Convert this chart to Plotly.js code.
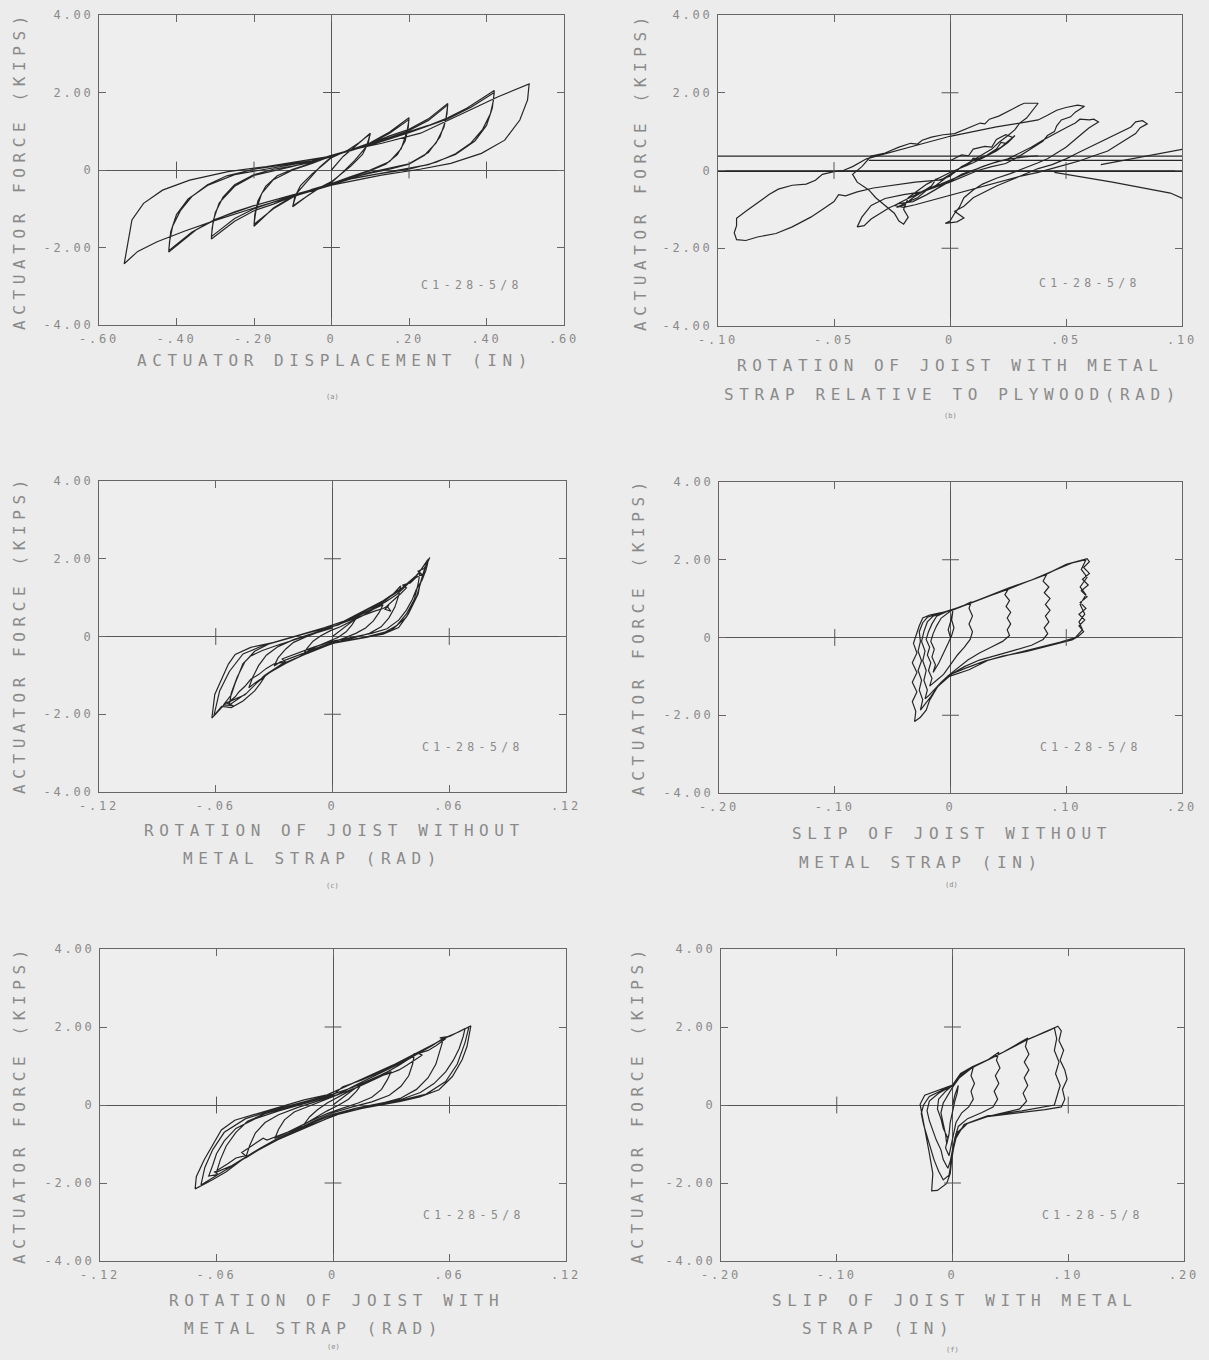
<!DOCTYPE html>
<html><head><meta charset="utf-8">
<script src="https://cdn.plot.ly/plotly-3.0.1.min.js"></script>
<style>
html,body{margin:0;padding:0;background:#ececec;}
#chart{width:1209px;height:1360px;}
text[style*="font-size: 16px"]{letter-spacing:5.6px;}
text[style*="font-size: 12px"]{letter-spacing:2.8px;}
text[style*="font-size: 11.5px"]{letter-spacing:4.4px;}
</style></head><body><div id="chart"></div>
<script>
// ---------- tick values and labels ----------
const forceTicks = [-4, -2, 0, 2, 4];
const forceTickText = ["-4.00", "-2.00", "0", "2.00", "4.00"];
const dispTicks = [-0.6, -0.4, -0.2, 0, 0.2, 0.4, 0.6];
const dispTickText = ["-.60", "-.40", "-.20", "0", ".20", ".40", ".60"];
const relRotTicks = [-0.1, -0.05, 0, 0.05, 0.1];
const relRotTickText = ["-.10", "-.05", "0", ".05", ".10"];
const rotTicks = [-0.12, -0.06, 0, 0.06, 0.12];
const rotTickText = ["-.12", "-.06", "0", ".06", ".12"];
const slipTicks = [-0.2, -0.1, 0, 0.1, 0.2];
const slipTickText = ["-.20", "-.10", "0", ".10", ".20"];

// ---------- titles ----------
const specimenLabel = "C1-28-5/8";
const yTitle = "ACTUATOR FORCE (KIPS)";
const xTitlesA = ["ACTUATOR DISPLACEMENT (IN)"];
const xTitlesB = ["ROTATION OF JOIST WITH METAL", "STRAP RELATIVE TO PLYWOOD(RAD)"];
const xTitlesC = ["ROTATION OF JOIST WITHOUT", "METAL STRAP (RAD)"];
const xTitlesD = ["SLIP OF JOIST WITHOUT", "METAL STRAP (IN)"];
const xTitlesE = ["ROTATION OF JOIST WITH", "METAL STRAP (RAD)"];
const xTitlesF = ["SLIP OF JOIST WITH METAL", "STRAP (IN)"];
const panelLetters = ["(a)", "(b)", "(c)", "(d)", "(e)", "(f)"];

// ---------- (a) actuator displacement (in) vs force (kips) ----------
const aLoops = [
[0.00,0.00],[0.03,0.35],[0.06,0.60],[0.10,0.95],[0.095,0.70],[0.08,0.40],[0.05,0.10],[0.02,-0.15],[0.00,-0.30],[-0.03,-0.45],[-0.06,-0.65],[-0.10,-0.95],[-0.095,-0.70],[-0.08,-0.40],[-0.05,-0.10],[-0.02,0.15],[0.00,0.32],
[0.04,0.50],[0.07,0.70],[0.10,0.93],[0.09,0.60],[0.06,0.25],[0.03,-0.05],[0.00,-0.32],[-0.04,-0.52],[-0.07,-0.72],[-0.10,-0.93],[-0.09,-0.60],[-0.06,-0.25],[-0.03,0.08],[0.00,0.34],
[0.05,0.52],[0.10,0.70],[0.15,0.98],[0.20,1.35],[0.198,1.10],[0.19,0.75],[0.17,0.40],[0.14,0.15],[0.10,-0.02],[0.05,-0.18],[0.00,-0.34],[-0.05,-0.50],[-0.10,-0.68],[-0.15,-0.98],[-0.20,-1.45],[-0.198,-1.15],[-0.19,-0.80],[-0.17,-0.42],[-0.14,-0.15],[-0.10,0.02],[-0.05,0.18],[0.00,0.35],
[0.05,0.50],[0.10,0.68],[0.15,0.95],[0.20,1.30],[0.195,1.00],[0.18,0.55],[0.15,0.22],[0.10,0.00],[0.05,-0.17],[0.00,-0.35],[-0.05,-0.50],[-0.10,-0.70],[-0.15,-1.00],[-0.20,-1.40],[-0.195,-1.05],[-0.18,-0.60],[-0.15,-0.25],[-0.10,0.00],[-0.05,0.17],[0.00,0.36],
[0.05,0.52],[0.10,0.68],[0.15,0.88],[0.20,1.05],[0.25,1.32],[0.30,1.72],[0.298,1.45],[0.29,1.10],[0.27,0.70],[0.24,0.38],[0.20,0.15],[0.15,0.02],[0.10,-0.08],[0.05,-0.20],[0.00,-0.36],[-0.05,-0.52],[-0.10,-0.68],[-0.15,-0.88],[-0.20,-1.05],[-0.25,-1.32],[-0.31,-1.78],[-0.308,-1.50],[-0.30,-1.10],[-0.28,-0.70],[-0.25,-0.38],[-0.20,-0.12],[-0.15,0.02],[-0.10,0.10],[-0.05,0.20],[0.00,0.36],
[0.10,0.66],[0.20,1.02],[0.25,1.28],[0.30,1.68],[0.295,1.30],[0.28,0.85],[0.25,0.45],[0.20,0.16],[0.10,-0.06],[0.00,-0.36],[-0.10,-0.66],[-0.20,-1.00],[-0.25,-1.25],[-0.31,-1.72],[-0.305,-1.30],[-0.29,-0.85],[-0.25,-0.42],[-0.20,-0.14],[-0.10,0.09],[0.00,0.37],
[0.05,0.50],[0.10,0.66],[0.15,0.82],[0.20,0.98],[0.25,1.15],[0.30,1.35],[0.35,1.60],[0.42,2.05],[0.418,1.80],[0.41,1.45],[0.39,1.05],[0.36,0.70],[0.32,0.42],[0.27,0.20],[0.20,0.02],[0.12,-0.10],[0.05,-0.22],[0.00,-0.37],[-0.05,-0.50],[-0.10,-0.64],[-0.15,-0.78],[-0.20,-0.92],[-0.25,-1.08],[-0.30,-1.28],[-0.35,-1.55],[-0.42,-2.12],[-0.418,-1.85],[-0.41,-1.45],[-0.39,-1.05],[-0.36,-0.68],[-0.32,-0.38],[-0.27,-0.15],[-0.20,0.02],[-0.12,0.14],[-0.05,0.24],[0.00,0.37],
[0.10,0.64],[0.20,0.96],[0.30,1.32],[0.36,1.62],[0.42,2.00],[0.415,1.60],[0.40,1.15],[0.37,0.75],[0.32,0.40],[0.25,0.14],[0.15,-0.05],[0.05,-0.23],[0.00,-0.38],[-0.10,-0.64],[-0.20,-0.92],[-0.30,-1.27],[-0.36,-1.60],[-0.42,-2.08],[-0.415,-1.60],[-0.40,-1.15],[-0.37,-0.75],[-0.32,-0.40],[-0.25,-0.12],[-0.15,0.06],[-0.05,0.23],[0.00,0.38],
[0.05,0.52],[0.13,0.69],[0.23,0.95],[0.33,1.42],[0.43,1.89],[0.51,2.22],[0.506,1.81],[0.486,1.29],[0.447,0.77],[0.387,0.43],[0.308,0.17],[0.228,0.02],[0.129,-0.13],[0.00,-0.39],[-0.10,-0.68],[-0.20,-0.98],[-0.30,-1.30],[-0.38,-1.58],[-0.45,-1.85],[-0.50,-2.10],[-0.535,-2.42],[-0.525,-1.81],[-0.515,-1.29],[-0.485,-0.86],[-0.436,-0.52],[-0.366,-0.26],[-0.267,-0.04],[-0.168,0.09],[-0.069,0.26],[0.00,0.36]
];

// ---------- (b) rotation of joist with strap relative to plywood (rad) vs force ----------
const bLoops = [
[0.000,0.25],[0.005,0.40],[0.008,0.38],[0.010,0.55],[0.015,0.62],[0.018,0.60],[0.020,0.80],[0.024,0.92],[0.027,0.85],[0.024,0.70],[0.022,0.72],[0.020,0.55],[0.016,0.40],[0.012,0.30],[0.010,0.32],[0.008,0.15],[0.004,0.05],[0.000,-0.10],[-0.004,-0.25],[-0.006,-0.22],[-0.008,-0.40],[-0.012,-0.55],[-0.016,-0.70],[-0.020,-0.90],[-0.023,-0.95],[-0.018,-0.80],[-0.014,-0.70],[-0.010,-0.50],[-0.006,-0.38],[-0.002,-0.20],[0.002,-0.05],[0.005,0.10],[0.010,0.25],[0.015,0.35],[0.020,0.50],[0.025,0.72],[0.028,0.90],
[0.022,0.60],[0.015,0.35],[0.010,0.20],[0.000,-0.05],[-0.010,-0.35],[-0.018,-0.70],[-0.020,-1.00],[-0.018,-1.20],[-0.020,-1.38],[-0.022,-1.30],[-0.024,-1.10],[-0.028,-0.90],[-0.032,-0.70],[-0.035,-0.50],[-0.040,-0.30],[-0.042,-0.10],[-0.038,0.10],[-0.034,0.37],
[-0.028,0.45],[-0.022,0.60],[-0.017,0.70],[-0.014,0.68],[-0.012,0.78],[-0.008,0.86],[-0.003,0.92],[0.002,0.95],[0.008,1.10],[0.013,1.22],[0.015,1.20],[0.017,1.32],[0.021,1.40],[0.024,1.48],[0.027,1.58],[0.030,1.68],[0.032,1.73],[0.038,1.73],
[0.035,1.50],[0.033,1.35],[0.030,1.22],[0.028,1.05],[0.025,0.90],[0.021,0.72],[0.018,0.55],[0.013,0.38],[0.008,0.20],[0.003,0.02],[0.000,-0.15],
[-0.005,-0.25],[-0.015,-0.30],[-0.025,-0.38],[-0.033,-0.45],[-0.040,-0.55],[-0.045,-0.65],[-0.048,-0.62],[-0.050,-0.80],[-0.055,-1.00],[-0.060,-1.20],[-0.068,-1.45],[-0.075,-1.62],[-0.083,-1.71],[-0.088,-1.80],[-0.092,-1.78],[-0.093,-1.60],[-0.092,-1.42],[-0.092,-1.23],[-0.088,-1.05],[-0.082,-0.80],[-0.078,-0.62],[-0.074,-0.48],[-0.068,-0.38],[-0.062,-0.35],[-0.058,-0.25],[-0.055,-0.10],[-0.050,-0.03],[-0.046,0.00],[-0.042,0.10],[-0.036,0.30],[-0.030,0.40],[-0.020,0.55],[-0.010,0.72],[0.000,0.88],[0.010,1.00],[0.020,1.12],[0.030,1.22],[0.038,1.30],[0.042,1.42],[0.046,1.55],[0.050,1.62],[0.055,1.68],[0.058,1.65],
[0.054,1.50],[0.052,1.38],[0.048,1.30],[0.046,1.15],[0.045,1.00],[0.042,0.90],[0.040,0.75],[0.036,0.60],[0.032,0.45],[0.028,0.30],[0.024,0.18],[0.018,0.10],[0.012,0.00],[0.006,-0.15],[0.000,-0.30],[-0.006,-0.42],[-0.012,-0.55],[-0.020,-0.62],[-0.028,-0.72],[-0.034,-0.90],[-0.038,-1.20],[-0.040,-1.45],[-0.037,-1.42],
[-0.034,-1.25],[-0.030,-1.10],[-0.026,-0.95],[-0.022,-0.85],[-0.016,-0.80],[-0.010,-0.62],[-0.005,-0.45],[0.000,-0.28],[0.005,-0.10],[0.012,0.05],[0.018,0.18],[0.025,0.30],[0.030,0.45],[0.035,0.60],[0.040,0.78],[0.045,0.95],[0.050,1.10],[0.054,1.22],[0.056,1.32],[0.060,1.30],[0.062,1.32],[0.064,1.25],
[0.060,1.10],[0.057,0.95],[0.054,0.80],[0.050,0.60],[0.046,0.45],[0.042,0.30],[0.038,0.20],[0.032,0.05],[0.026,-0.08],[0.020,-0.20],[0.014,-0.35],[0.010,-0.50],[0.006,-0.70],[0.004,-0.95],[0.002,-1.10],[0.000,-1.30],[-0.002,-1.36],[0.003,-1.32],[0.006,-1.22],
[0.002,-1.05],[0.006,-0.92],[0.010,-0.70],[0.015,-0.55],[0.020,-0.40],[0.026,-0.25],[0.032,-0.10],[0.038,0.05],[0.044,0.15],[0.050,0.30],[0.055,0.45],[0.060,0.60],[0.065,0.75],[0.070,0.88],[0.074,1.00],[0.078,1.12],[0.080,1.25],[0.083,1.28],[0.085,1.20],[0.082,1.10],
[0.080,0.95],[0.076,0.80],[0.072,0.65],[0.068,0.50],[0.062,0.38],[0.056,0.25],[0.050,0.15],[0.044,0.05],[0.038,-0.05],[0.030,-0.15],[0.022,-0.28],[0.015,-0.40],[0.008,-0.52],[0.000,-0.65],[-0.008,-0.78],[-0.015,-0.88],[-0.020,-0.95],[-0.024,-0.90],[-0.020,-0.78],[-0.015,-0.62],[-0.010,-0.48],[-0.004,-0.35],[0.002,-0.20],[0.008,-0.05],[0.014,0.10],[0.020,0.22],[0.026,0.30],[0.032,0.35],[0.038,0.38],
[null,null],[-0.035,0.26],[0.400,0.26],
[null,null],[-0.400,0.37],[0.400,0.37],
[null,null],[-0.400,-0.02],[0.400,-0.02],
[null,null],[0.065,0.15],[0.082,0.33],[0.100,0.54],[0.150,1.10],
[null,null],[0.045,-0.05],[0.070,-0.30],[0.095,-0.58],[0.100,-0.71],[0.150,-1.40]
];

// ---------- (c) rotation of joist without strap (rad) vs force ----------
const cLoops = [
[0.000,0.00],[0.004,0.15],[0.008,0.30],[0.012,0.46],[0.010,0.30],[0.007,0.12],[0.003,-0.02],[-0.002,-0.12],[-0.008,-0.25],[-0.012,-0.35],[-0.015,-0.46],[-0.013,-0.30],[-0.010,-0.12],[-0.006,0.02],[-0.001,0.15],[0.004,0.25],
[0.010,0.40],[0.016,0.55],[0.021,0.70],[0.026,0.82],[0.024,0.62],[0.021,0.40],[0.017,0.22],[0.012,0.08],[0.006,-0.04],[0.000,-0.15],[-0.008,-0.30],[-0.015,-0.42],[-0.022,-0.55],[-0.027,-0.66],[-0.030,-0.76],[-0.028,-0.55],[-0.024,-0.32],[-0.020,-0.15],[-0.014,-0.02],[-0.008,0.10],[-0.002,0.22],[0.004,0.32],
[0.010,0.45],[0.017,0.62],[0.022,0.78],[0.027,0.92],[0.031,1.08],[0.035,1.30],[0.034,1.05],[0.032,0.75],[0.029,0.48],[0.025,0.25],[0.019,0.08],[0.012,-0.02],[0.005,-0.10],[0.000,-0.18],[-0.008,-0.32],[-0.016,-0.50],[-0.024,-0.68],[-0.030,-0.85],[-0.036,-1.05],[-0.040,-1.20],[-0.043,-1.32],[-0.041,-1.05],[-0.038,-0.75],[-0.034,-0.48],[-0.028,-0.26],[-0.020,-0.08],[-0.012,0.05],[-0.004,0.18],[0.004,0.32],
[0.012,0.50],[0.020,0.70],[0.027,0.88],[0.033,1.08],[0.038,1.30],[0.042,1.50],[0.045,1.66],[0.044,1.35],[0.042,0.95],[0.038,0.58],[0.033,0.28],[0.026,0.08],[0.018,-0.02],[0.008,-0.10],[0.000,-0.18],[-0.010,-0.35],[-0.018,-0.55],[-0.026,-0.74],[-0.033,-0.95],[-0.039,-1.20],[-0.044,-1.45],[-0.049,-1.62],[-0.053,-1.76],[-0.052,-1.45],[-0.049,-1.05],[-0.045,-0.65],[-0.040,-0.38],[-0.033,-0.20],[-0.024,-0.06],[-0.015,0.06],[-0.006,0.18],[0.003,0.30],
[0.008,0.42],[0.016,0.64],[0.025,0.88],[0.032,1.10],[0.037,1.28],[0.041,1.45],[0.044,1.62],[0.047,1.82],[0.050,2.03],[0.047,1.69],[0.045,1.35],[0.044,1.09],[0.041,0.80],[0.039,0.58],[0.034,0.23],[0.026,0.06],[0.016,-0.03],[0.006,-0.11],[0.000,-0.15],[-0.010,-0.33],[-0.018,-0.54],[-0.026,-0.71],[-0.034,-0.97],[-0.037,-1.20],[-0.040,-1.40],[-0.046,-1.66],[-0.052,-1.83],[-0.057,-1.80],[-0.062,-2.10],
[-0.0605,-1.49],[-0.0575,-1.14],[-0.0535,-0.71],[-0.050,-0.46],[-0.042,-0.28],[-0.030,-0.15],[-0.018,0.02],[-0.004,0.23],[0.006,0.40],[0.016,0.66],[0.026,0.92],[0.036,1.26],[0.044,1.61],[0.049,1.98],[0.046,1.50],[0.043,1.00],[0.038,0.50],[0.030,0.15],[0.018,0.00],[0.000,-0.18],[-0.020,-0.58],[-0.035,-1.00],[-0.045,-1.50],[-0.055,-1.72],[-0.061,-2.05],[-0.058,-1.40],[-0.053,-0.90],[-0.046,-0.45],[-0.035,-0.22],[-0.020,0.00],[0.000,0.25],
[0.008,0.40],[0.014,0.52],[0.018,0.60],[0.022,0.66],[0.026,0.72],[0.029,0.80],[0.027,0.70],[0.030,0.65],[0.028,0.78],[0.032,0.95],[0.035,1.10],[0.038,1.25],[0.036,1.32],[0.040,1.38],[0.043,1.52],[0.046,1.60],[0.044,1.68],[0.047,1.75],[0.049,1.90],[0.048,1.70],[0.046,1.45],[0.043,1.20],[0.041,0.95],[0.038,0.68],[0.034,0.42],[0.028,0.20],[0.020,0.08],[0.010,-0.02],[0.000,-0.12],[-0.010,-0.28],[-0.018,-0.42],[-0.022,-0.50],[-0.026,-0.58],[-0.024,-0.66],[-0.030,-0.70],[-0.034,-0.82],[-0.038,-0.98],[-0.042,-1.10],[-0.045,-1.28],[-0.048,-1.42],[-0.050,-1.55],[-0.054,-1.72],[-0.051,-1.78],[-0.056,-1.76],[-0.052,-1.50],[-0.050,-1.20],[-0.048,-0.95],[-0.046,-0.70],[-0.042,-0.50],[-0.036,-0.36],[-0.028,-0.22],[-0.018,-0.05],[-0.008,0.10],[0.000,0.22]
];

// ---------- (d) slip of joist without strap (in) vs force ----------
const dLoops = [
[0.000,0.00],[-0.002,0.20],[0.000,0.40],[0.002,0.68],[0.001,0.45],[0.003,0.25],[0.001,0.05],[-0.002,-0.15],[-0.006,-0.40],[-0.010,-0.65],[-0.015,-0.90],[-0.013,-0.70],[-0.016,-0.50],[-0.014,-0.30],[-0.017,-0.10],[-0.015,0.10],[-0.012,0.30],[-0.008,0.50],[0.000,0.68],
[0.010,0.80],[0.018,0.92],[0.016,0.75],[0.019,0.55],[0.016,0.35],[0.019,0.15],[0.017,-0.05],[0.012,-0.25],[0.006,-0.45],[0.000,-0.70],[-0.006,-0.95],[-0.012,-1.10],[-0.018,-1.25],[-0.016,-1.05],[-0.019,-0.85],[-0.017,-0.65],[-0.020,-0.45],[-0.018,-0.25],[-0.021,-0.05],[-0.019,0.15],[-0.016,0.35],[-0.012,0.55],[-0.002,0.68],[0.010,0.80],
[0.020,0.92],[0.030,1.03],[0.040,1.14],[0.050,1.25],[0.047,1.10],[0.051,0.95],[0.048,0.80],[0.052,0.65],[0.049,0.50],[0.052,0.35],[0.049,0.20],[0.051,0.05],[0.045,-0.10],[0.035,-0.25],[0.025,-0.40],[0.015,-0.58],[0.006,-0.78],[-0.002,-0.98],[-0.008,-1.15],[-0.014,-1.35],[-0.019,-1.50],[-0.022,-1.58],[-0.020,-1.35],[-0.023,-1.10],[-0.021,-0.85],[-0.024,-0.60],[-0.022,-0.35],[-0.025,-0.10],[-0.023,0.15],[-0.020,0.40],[-0.015,0.55],[-0.005,0.66],[0.005,0.74],[0.018,0.90],
[0.035,1.08],[0.050,1.24],[0.065,1.42],[0.083,1.62],[0.080,1.45],[0.085,1.30],[0.081,1.15],[0.086,1.00],[0.082,0.85],[0.086,0.70],[0.082,0.55],[0.085,0.40],[0.081,0.25],[0.084,0.10],[0.080,-0.05],[0.070,-0.20],[0.055,-0.33],[0.040,-0.45],[0.025,-0.58],[0.012,-0.75],[0.002,-0.92],[-0.006,-1.10],[-0.012,-1.30],[-0.017,-1.52],[-0.022,-1.72],[-0.026,-1.87],[-0.024,-1.60],[-0.027,-1.35],[-0.025,-1.10],[-0.028,-0.85],[-0.025,-0.60],[-0.028,-0.35],[-0.026,-0.10],[-0.027,0.15],[-0.024,0.38],[-0.020,0.52],[-0.010,0.62],[0.000,0.70],[0.018,0.90],
[0.035,1.08],[0.050,1.25],[0.065,1.42],[0.083,1.63],[0.100,1.88],[0.110,1.97],[0.118,2.03],[0.120,1.95],[0.115,1.80],[0.120,1.65],[0.114,1.50],[0.119,1.35],[0.113,1.20],[0.118,1.05],[0.112,0.90],[0.117,0.75],[0.111,0.60],[0.116,0.45],[0.111,0.30],[0.115,0.15],[0.110,0.02],[0.105,-0.06],[0.090,-0.18],[0.066,-0.36],[0.045,-0.48],[0.033,-0.58],[0.016,-0.83],[-0.001,-1.00],[-0.011,-1.26],[-0.018,-1.61],[-0.021,-1.87],[-0.026,-2.05],[-0.031,-2.16],
[-0.030,-1.90],[-0.033,-1.65],[-0.029,-1.40],[-0.033,-1.15],[-0.029,-0.90],[-0.033,-0.65],[-0.029,-0.40],[-0.032,-0.15],[-0.030,0.05],[-0.027,0.30],[-0.024,0.50],[-0.018,0.58],[-0.005,0.66],[0.010,0.80],[0.020,0.92],[0.035,1.10],[0.050,1.27],[0.070,1.48],[0.090,1.72],[0.105,1.92],[0.117,2.00],[0.113,1.75],[0.118,1.55],[0.112,1.30],[0.117,1.10],[0.112,0.85],[0.116,0.60],[0.111,0.40],[0.114,0.20],[0.108,0.00],[0.095,-0.12],[0.070,-0.30],[0.050,-0.44],[0.030,-0.60],[0.012,-0.80],[0.000,-0.95]
];

// ---------- (e) rotation of joist with strap (rad) vs force ----------
const eLoops = [
[0.000,0.00],[0.005,0.20],[0.010,0.38],[0.015,0.55],[0.012,0.35],[0.008,0.15],[0.003,0.00],[-0.003,-0.15],[-0.009,-0.32],[-0.015,-0.50],[-0.012,-0.30],[-0.008,-0.12],[-0.003,0.05],[0.002,0.18],
[0.010,0.40],[0.018,0.58],[0.024,0.72],[0.030,0.86],[0.028,0.65],[0.025,0.40],[0.020,0.20],[0.013,0.05],[0.005,-0.08],[-0.003,-0.22],[-0.012,-0.42],[-0.020,-0.62],[-0.026,-0.76],[-0.030,-0.86],[-0.028,-0.62],[-0.025,-0.38],[-0.020,-0.18],[-0.012,-0.02],[-0.004,0.12],[0.004,0.28],
[0.012,0.45],[0.020,0.66],[0.028,0.85],[0.034,1.02],[0.038,1.15],[0.042,1.32],[0.041,1.05],[0.039,0.75],[0.035,0.48],[0.029,0.25],[0.020,0.08],[0.010,-0.05],[0.000,-0.20],[-0.010,-0.42],[-0.020,-0.65],[-0.028,-0.85],[-0.035,-1.05],[-0.040,-1.20],[-0.045,-1.36],[-0.043,-1.05],[-0.040,-0.72],[-0.035,-0.45],[-0.028,-0.25],[-0.018,-0.06],[-0.008,0.10],[0.002,0.26],
[0.012,0.52],[0.022,0.76],[0.030,0.95],[0.038,1.15],[0.045,1.35],[0.051,1.52],[0.057,1.72],[0.055,1.40],[0.053,1.05],[0.049,0.70],[0.043,0.40],[0.035,0.18],[0.025,0.04],[0.012,-0.08],[0.000,-0.24],[-0.010,-0.45],[-0.020,-0.68],[-0.030,-0.90],[-0.038,-1.12],[-0.045,-1.34],[-0.052,-1.55],[-0.060,-1.72],[-0.058,-1.40],[-0.055,-1.05],[-0.050,-0.70],[-0.044,-0.42],[-0.035,-0.22],[-0.024,-0.06],[-0.012,0.10],[0.000,0.25],
[0.005,0.47],[0.015,0.64],[0.025,0.86],[0.037,1.16],[0.047,1.41],[0.057,1.71],[0.065,1.88],[0.071,2.03],[0.069,1.50],[0.0665,1.16],[0.0615,0.73],[0.0546,0.39],[0.0447,0.21],[0.0347,0.09],[0.0248,0.00],[0.0149,-0.09],[0.001,-0.26],[-0.009,-0.47],[-0.019,-0.69],[-0.029,-0.90],[-0.039,-1.16],[-0.047,-1.41],[-0.055,-1.71],[-0.0625,-1.93],[-0.071,-2.15],
[-0.0704,-1.84],[-0.0664,-1.41],[-0.0625,-1.07],[-0.0575,-0.64],[-0.0506,-0.39],[-0.0387,-0.21],[-0.0268,-0.04],[-0.0149,0.13],[-0.003,0.26],[0.008,0.50],[0.020,0.78],[0.032,1.05],[0.045,1.38],[0.058,1.72],[0.070,2.00],[0.068,1.60],[0.064,1.05],[0.058,0.60],[0.048,0.28],[0.035,0.12],[0.020,-0.02],[0.005,-0.20],[-0.010,-0.48],[-0.025,-0.80],[-0.040,-1.20],[-0.055,-1.65],[-0.068,-2.05],[-0.066,-1.60],[-0.062,-1.15],[-0.056,-0.70],[-0.045,-0.35],[-0.030,-0.12],[-0.015,0.08],[0.000,0.28],
[0.010,0.45],[0.018,0.62],[0.022,0.70],[0.026,0.80],[0.024,0.74],[0.030,0.82],[0.034,0.90],[0.038,1.02],[0.042,1.15],[0.046,1.28],[0.044,1.32],[0.049,1.40],[0.053,1.52],[0.056,1.62],[0.058,1.70],[0.055,1.72],[0.060,1.76],[0.064,1.86],[0.068,1.96],[0.067,1.75],[0.065,1.45],[0.062,1.15],[0.058,0.85],[0.052,0.55],[0.045,0.32],[0.036,0.16],[0.025,0.05],[0.012,-0.08],[0.000,-0.25],[-0.012,-0.48],[-0.022,-0.68],[-0.030,-0.82],[-0.034,-0.90],[-0.036,-0.85],[-0.040,-0.98],[-0.044,-1.12],[-0.047,-1.22],[-0.045,-1.30],[-0.050,-1.36],[-0.054,-1.50],[-0.058,-1.62],[-0.061,-1.72],[-0.059,-1.78],[-0.064,-1.82],[-0.062,-1.55],[-0.060,-1.25],[-0.056,-0.92],[-0.050,-0.60],[-0.040,-0.35],[-0.028,-0.15],[-0.014,0.05],[0.000,0.25]
];

// ---------- (f) slip of joist with strap (in) vs force ----------
const fLoops = [
[0.000,0.00],[0.002,0.25],[0.005,0.50],[0.004,0.30],[0.002,0.10],[0.000,-0.15],[-0.002,-0.45],[-0.003,-0.75],[-0.005,-1.00],[-0.006,-0.75],[-0.008,-0.45],[-0.010,-0.20],[-0.008,0.05],[-0.004,0.25],[0.000,0.45],
[0.006,0.70],[0.012,0.85],[0.018,0.98],[0.016,0.75],[0.019,0.55],[0.016,0.35],[0.018,0.15],[0.014,-0.05],[0.008,-0.20],[0.003,-0.45],[0.001,-0.75],[-0.001,-1.05],[-0.003,-1.30],[-0.006,-1.10],[-0.004,-0.85],[-0.008,-0.60],[-0.010,-0.35],[-0.013,-0.10],[-0.012,0.15],[-0.006,0.35],[0.000,0.50],[0.008,0.78],[0.018,0.98],
[0.030,1.15],[0.040,1.35],[0.038,1.15],[0.041,0.95],[0.037,0.75],[0.040,0.55],[0.036,0.35],[0.039,0.15],[0.035,-0.05],[0.025,-0.20],[0.013,-0.35],[0.005,-0.55],[0.002,-0.85],[0.000,-1.15],[-0.002,-1.45],[-0.004,-1.62],[-0.008,-1.40],[-0.010,-1.15],[-0.014,-0.90],[-0.017,-0.65],[-0.020,-0.40],[-0.022,-0.15],[-0.020,0.10],[-0.012,0.30],[0.000,0.50],[0.007,0.80],[0.018,0.98],
[0.030,1.15],[0.044,1.36],[0.057,1.58],[0.065,1.72],[0.063,1.50],[0.066,1.30],[0.062,1.10],[0.066,0.90],[0.062,0.70],[0.065,0.50],[0.061,0.30],[0.064,0.10],[0.058,-0.10],[0.045,-0.20],[0.030,-0.30],[0.013,-0.47],[0.004,-0.73],[0.001,-1.10],[-0.001,-1.45],[-0.003,-1.80],[-0.008,-1.92],[-0.012,-1.70],[-0.016,-1.40],[-0.019,-1.10],[-0.022,-0.80],[-0.025,-0.50],[-0.027,-0.22],[-0.025,0.00],[-0.020,0.22],[-0.010,0.36],[0.000,0.51],[0.007,0.81],[0.017,0.98],[0.030,1.15],
[0.044,1.36],[0.057,1.58],[0.071,1.75],[0.084,1.92],[0.091,2.02],[0.094,1.90],[0.092,1.65],[0.096,1.40],[0.093,1.15],[0.097,0.90],[0.099,0.66],[0.095,0.40],[0.097,0.15],[0.094,-0.05],[0.080,-0.12],[0.064,-0.18],[0.045,-0.24],[0.030,-0.30],[0.013,-0.47],[0.003,-0.73],[0.000,-1.24],[-0.002,-1.76],[-0.005,-2.01],[-0.013,-2.19],[-0.018,-2.20],
[-0.017,-1.76],[-0.020,-1.24],[-0.0235,-0.73],[-0.027,-0.22],[-0.028,0.02],[-0.024,0.25],[-0.012,0.38],[0.000,0.51],[0.008,0.80],[0.020,1.00],[0.035,1.22],[0.050,1.46],[0.065,1.68],[0.080,1.88],[0.088,1.98],[0.090,1.70],[0.088,1.40],[0.092,1.10],[0.089,0.80],[0.093,0.50],[0.090,0.20],[0.088,0.00],[0.060,-0.15],[0.030,-0.28],[0.010,-0.50],[0.002,-0.90],[-0.001,-1.40],[-0.003,-1.85]
];

// ---------- layout helpers (pixel boxes of each panel) ----------
const W = 1209, H = 1360;
const px = v => v / W;
const py = v => 1 - v / H;

const panels = [
  {pts: aLoops, ticks: dispTicks, text: dispTickText, range: [-0.6, 0.6], box: [99, 564, 15, 325],
   xt: xTitlesA, xtPos: [[335, 361]], yt: [19, 170], lab: [472, 285], let: [332, 397]},
  {pts: bLoops, ticks: relRotTicks, text: relRotTickText, range: [-0.1, 0.1], box: [718, 1182, 15, 326],
   xt: xTitlesB, xtPos: [[950, 366], [952, 394]], yt: [640, 171], lab: [1090, 283], let: [950, 416]},
  {pts: cLoops, ticks: rotTicks, text: rotTickText, range: [-0.12, 0.12], box: [99, 566, 481, 792],
   xt: xTitlesC, xtPos: [[334, 830], [312, 858]], yt: [19, 634], lab: [473, 747], let: [332, 886]},
  {pts: dLoops, ticks: slipTicks, text: slipTickText, range: [-0.2, 0.2], box: [719, 1182, 482, 793],
   xt: xTitlesD, xtPos: [[952, 833], [921, 862]], yt: [638, 636], lab: [1091, 747], let: [951, 885]},
  {pts: eLoops, ticks: rotTicks, text: rotTickText, range: [-0.12, 0.12], box: [100, 566, 949, 1261],
   xt: xTitlesE, xtPos: [[336, 1300], [313, 1328]], yt: [19, 1104], lab: [474, 1215], let: [333, 1347]},
  {pts: fLoops, ticks: slipTicks, text: slipTickText, range: [-0.2, 0.2], box: [721, 1184, 949, 1261],
   xt: xTitlesF, xtPos: [[955, 1300], [878, 1328]], yt: [637, 1104], lab: [1093, 1215], let: [952, 1350]}
];

const FONT = "DejaVu Sans Mono, monospace";
const TXT = "#8a8a8a";
const data = [];
const layout = {
  width: W, height: H, autosize: false,
  margin: {l: 0, r: 0, t: 0, b: 0},
  paper_bgcolor: "#ececec", plot_bgcolor: "#eeeeee",
  showlegend: false, annotations: []
};

panels.forEach((p, i) => {
  const n = i === 0 ? "" : String(i + 1);
  const xa = "x" + n, ya = "y" + n;
  data.push({
    x: p.pts.map(q => q[0]), y: p.pts.map(q => q[1]),
    xaxis: xa, yaxis: ya, type: "scatter", mode: "lines",
    line: {color: "#262626", width: 1.2}, hoverinfo: "skip", connectgaps: false
  });
  // tick crosses on the zero lines
  const xin = p.ticks.filter(v => v !== 0 && Math.abs(v) < Math.abs(p.range[1]) - 1e-9);
  const yin = forceTicks.filter(v => v !== 0 && Math.abs(v) < 4);
  data.push({
    x: xin, y: xin.map(() => 0), xaxis: xa, yaxis: ya, type: "scatter", mode: "markers",
    marker: {symbol: "line-ns", size: 12, color: "#555", line: {width: 1, color: "#555"}}, hoverinfo: "skip"
  });
  data.push({
    x: yin.map(() => 0), y: yin, xaxis: xa, yaxis: ya, type: "scatter", mode: "markers",
    marker: {symbol: "line-ew", size: 12, color: "#555", line: {width: 1, color: "#555"}}, hoverinfo: "skip"
  });
  const common = {
    showline: true, linecolor: "#666", linewidth: 1, mirror: "ticks",
    ticks: "inside", ticklen: 7, tickcolor: "#666", tickwidth: 1,
    showgrid: false, zeroline: true, zerolinecolor: "#555", zerolinewidth: 1,
    tickfont: {family: FONT, size: 12, color: TXT}, fixedrange: true, tickmode: "array"
  };
  layout["xaxis" + n] = Object.assign({}, common, {
    domain: [px(p.box[0]), px(p.box[1])], anchor: ya, range: p.range,
    tickvals: p.ticks, ticktext: p.text, ticklabelstandoff: 3
  });
  layout["yaxis" + n] = Object.assign({}, common, {
    domain: [py(p.box[3]), py(p.box[2])], anchor: xa, range: [-4, 4],
    tickvals: forceTicks, ticktext: forceTickText, ticklabelstandoff: 2
  });
  const A = layout.annotations;
  p.xt.forEach((t, k) => A.push({
    text: t, x: px(p.xtPos[k][0]), y: py(p.xtPos[k][1]), xref: "paper", yref: "paper",
    xanchor: "center", yanchor: "middle", showarrow: false, font: {family: FONT, size: 16, color: TXT}
  }));
  A.push({text: yTitle, x: px(p.yt[0]), y: py(p.yt[1]), xref: "paper", yref: "paper", textangle: -90,
    xanchor: "center", yanchor: "middle", showarrow: false, font: {family: FONT, size: 16, color: TXT}});
  A.push({text: specimenLabel, x: px(p.lab[0]), y: py(p.lab[1]), xref: "paper", yref: "paper",
    xanchor: "center", yanchor: "middle", showarrow: false, font: {family: FONT, size: 11.5, color: TXT}});
  A.push({text: panelLetters[i], x: px(p.let[0]), y: py(p.let[1]), xref: "paper", yref: "paper",
    xanchor: "center", yanchor: "middle", showarrow: false, font: {family: FONT, size: 7, color: TXT}});
});

Plotly.newPlot("chart", data, layout, {staticPlot: true, displayModeBar: false});
</script></body></html>
